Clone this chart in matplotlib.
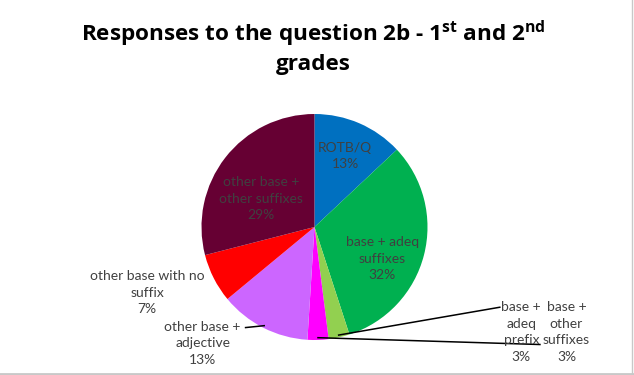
import numpy as np
import matplotlib.pyplot as plt
from matplotlib.lines import Line2D

plt.rcParams['font.family'] = ['Lato', 'DejaVu Sans']
plt.rcParams['mathtext.fontset'] = 'custom'
plt.rcParams['mathtext.rm'] = 'Open Sans'
plt.rcParams['mathtext.bf'] = 'Open Sans:bold'

# data
categories = ['ROTB/Q', 'base + adeq\nsuffixes', 'base +\nadeq\nprefix', 'base +\nother\nsuffixes',
              'other base +\nadjective', 'other base with no\nsuffix', 'other base +\nother suffixes']
shares = [13, 32, 3, 3, 13, 7, 29]
colors = ['#0070C0', '#00B050', '#92D050', '#FF00FF', '#CC66FF', '#FF0000', '#660033']

# label layout (data units, pie radius = 1)
label_pos = [(0.27, 0.63), (0.60, -0.28), (1.83, -0.93), (2.23, -0.93),
             (-0.99, -1.03), (-1.48, -0.58), (-0.47, 0.25)]
leader_end = {2: (1.64, -0.71), 3: (1.995, -1.04), 4: (-0.61, -0.89)}

fig = plt.figure(figsize=(6.34, 3.75), dpi=100)
ax = fig.add_axes([(314.5 - 113) / 634, (148 - 113) / 375, 226 / 634, 226 / 375])
wedges, _ = ax.pie(shares, colors=colors, startangle=90, counterclock=False,
                   radius=1, wedgeprops=dict(linewidth=0))
ax.set_xlim(-1, 1)
ax.set_ylim(-1, 1)
ax.set_aspect('equal')

for i, w in enumerate(wedges):
    x, y = label_pos[i]
    ax.text(x, y, f'{categories[i]}\n{shares[i]}%', ha='center', va='center',
            fontsize=10, color='#404040', linespacing=1.45, clip_on=False)
    if i in leader_end:
        mid = np.deg2rad((w.theta1 + w.theta2) / 2)
        ex, ey = leader_end[i]
        ax.plot([np.cos(mid) * 0.98, ex], [np.sin(mid) * 0.98, ey], color='black',
                lw=1.1, clip_on=False)

fig.text(313 / 634, 1 - 47 / 375,
         'Responses to the question 2b - 1$^{\\mathbf{st}}$ and 2$^{\\mathbf{nd}}$\ngrades',
         ha='center', va='center', fontsize=16.2, fontweight='bold', linespacing=1.28,
         family='Open Sans')

fig.add_artist(Line2D([0, 1], [0.004, 0.004], transform=fig.transFigure, color='#c8c8c8', lw=2))
fig.add_artist(Line2D([0.9975, 0.9975], [0, 1], transform=fig.transFigure, color='#c8c8c8', lw=1))

fig.savefig('out.png', dpi=100)
